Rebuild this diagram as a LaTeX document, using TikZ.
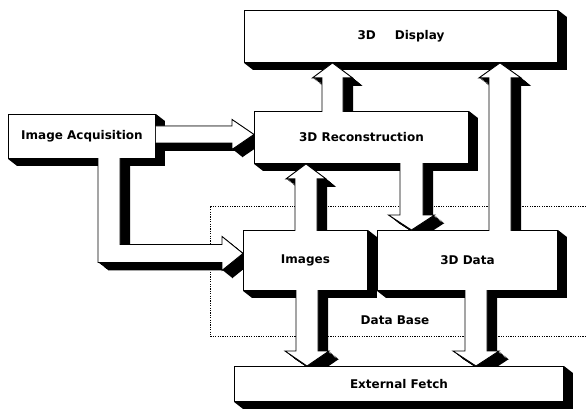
\documentclass[tikz,border=0pt]{standalone}
\usepackage{fontspec}
\newfontfamily\dvfont{DejaVu Sans}
\usetikzlibrary{calc}
\newcommand\diagfont{\dvfont\bfseries\fontsize{12}{14}\selectfont}
% extruded block arrow: #1 clip path, #2 front polygon
\newcommand\blockarrow[2]{%
  \begin{scope}
    \clip #1;
    \foreach \s in {0,...,10}{%
      \begin{scope}[transform canvas={shift={(\s,0.8*\s)}}]
        \fill[black] #2;
      \end{scope}}
    \filldraw[arrowface] #2;
  \end{scope}}
% up arrow: #1 source, #2 target, #3 x, #4 shaft half width, #5 head half width
\newcommand\uparr[5]{%
  \coordinate (#1-#2-b) at (#3,0 |- #1.north);
  \coordinate (#1-#2-t) at (#3,0 |- #2.south);
  \blockarrow{(0,0 |- #2.south) rectangle (586,0 |- #1.north)}
   {($(#1-#2-b)+(-#4,5)$) -- ($(#1-#2-t)+(-#4,15)$) -- ($(#1-#2-t)+(-#5,15)$) -- (#1-#2-t)
    -- ($(#1-#2-t)+(#5,15)$) -- ($(#1-#2-t)+(#4,15)$) -- ($(#1-#2-b)+(#4,5)$) -- cycle}}
% down arrow
\newcommand\downarr[5]{%
  \coordinate (#1-#2-b) at (#3,0 |- #1.south);
  \coordinate (#1-#2-t) at (#3,0 |- #2.north);
  \blockarrow{(0,0 |- #1.south) rectangle (586,0 |- #2.north)}
   {($(#1-#2-b)+(-#4,-5)$) -- ($(#1-#2-t)+(-#4,-15)$) -- ($(#1-#2-t)+(-#5,-15)$) -- (#1-#2-t)
    -- ($(#1-#2-t)+(#5,-15)$) -- ($(#1-#2-t)+(#4,-15)$) -- ($(#1-#2-b)+(#4,-5)$) -- cycle}}
% box extrusion
\newcommand\extrude[1]{%
  \fill[black] (#1.north east) -- ++(9,7) -- ($(#1.south east)+(9,7)$) -- ($(#1.south west)+(9,7)$)
    -- (#1.south west) -- (#1.south east) -- cycle;}
\begin{document}
\begin{tikzpicture}[x=1pt,y=-1pt,
  box/.style={draw,fill=white,line width=0.9pt,inner sep=0pt,anchor=north west,font=\diagfont},
  lbl/.style={font=\diagfont},
  arrowface/.style={fill=white,draw=black,line width=0.9pt,line join=miter},
  dbline/.style={line width=0.6pt,dash pattern=on 1.2pt off 1.2pt}]
\useasboundingbox[fill=white] (0,0) rectangle (586,408);
% data base region
\draw[dbline] (586,206) -- (210,206) -- (210,336) -- (586,336);
\node[lbl] (dbl) at (395,320) {Data Base};
% boxes
\node[box,minimum width=313pt,minimum height=52pt] (disp) at (244,10) {3D\hspace{19pt}Display};
\node[box,minimum width=147pt,minimum height=44pt] (acq) at (8,114) {Image Acquisition};
\node[box,minimum width=214pt,minimum height=52pt] (rec) at (254,111) {3D Reconstruction};
\node[box,minimum width=124pt,minimum height=60pt] (img) at (243,230) {Images};
\node[box,minimum width=180pt,minimum height=60pt] (data) at (377,230) {3D Data};
\node[box,minimum width=329pt,minimum height=35pt] (ext) at (234,366) {External Fetch};
\extrude{disp}\extrude{acq}\extrude{rec}\extrude{img}\extrude{data}\extrude{ext}
% vertical arrows
\uparr{rec}{disp}{332.5}{10.5}{20}
\uparr{data}{disp}{500}{11}{21}
\uparr{img}{rec}{306}{11}{20}
\downarr{rec}{data}{411.5}{11.5}{23}
\downarr{img}{ext}{307}{11}{22}
\downarr{data}{ext}{476}{11}{23}
% Image Acquisition -> 3D Reconstruction
\coordinate (acq-rec-b) at ($(acq.east)+(-5,-2)$);
\coordinate (acq-rec-t) at (rec.west |- acq-rec-b);
\blockarrow{(acq.east |- 0,0) rectangle (rec.west |- 0,408)}
 {($(acq-rec-b)+(0,-8.5)$) -- ($(acq-rec-t)+(-22,-8.5)$) -- ($(acq-rec-t)+(-22,-15)$) -- (acq-rec-t)
  -- ($(acq-rec-t)+(-22,15)$) -- ($(acq-rec-t)+(-22,8.5)$) -- ($(acq-rec-b)+(0,8.5)$) -- cycle}
% Image Acquisition -> Images (L-shaped)
\coordinate (acq-img-t) at ($(img.west)+(0,-7)$);
\blockarrow{(0,0 |- acq.south) rectangle (img.west |- 0,408)}
 {(98,153) -- ($(98,0 |- acq-img-t)+(0,9)$) -- ($(acq-img-t)+(-21,9)$) -- ($(acq-img-t)+(-21,17)$)
  -- (acq-img-t) -- ($(acq-img-t)+(-21,-17)$) -- ($(acq-img-t)+(-21,-9)$)
  -- ($(120,0 |- acq-img-t)+(0,-9)$) -- (120,153) -- cycle}
\end{tikzpicture}
\end{document}
